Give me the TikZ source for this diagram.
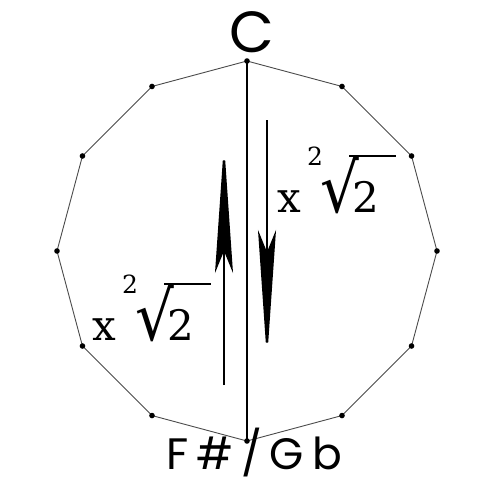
\documentclass[tikz,border=0pt]{standalone}
\usepackage{fontspec}
\usepackage{graphicx}
\usepackage{tikz}
\usetikzlibrary{arrows.meta,calc}
\newfontfamily\pitchfont{Poppins}
\newfontfamily\widepitchfont[LetterSpace=18]{Poppins}
\newfontfamily\rootfont{DejaVu Serif}
\definecolor{edgegray}{RGB}{75,75,75}

\begin{document}
\begin{tikzpicture}[x=1pt,y=-1pt,
    edge/.style={edgegray, line width=0.9pt},
    axis/.style={black, line width=1.5pt},
    shaft/.style={line width=2.4pt},
    spike/.style={-{Stealth[length=130pt,width=18pt,inset=22pt]}},
    pitch/.style={inner sep=0pt},
    big/.style={font=\rootfont\fontsize{42}{42}\selectfont, inner sep=0pt, anchor=base west},
    small/.style={font=\rootfont\fontsize{25}{25}\selectfont, inner sep=0pt, anchor=base west},
    surd/.style={font=\rootfont\fontsize{58}{58}\selectfont, inner sep=0pt, anchor=base west},
    bar/.style={line width=1.2pt},
  ]
  \useasboundingbox (0,0) rectangle (480,485);
  % twelve tones, C on top
  \foreach \i in {0,...,11}
    \coordinate (v\i) at ({247+190*sin(30*\i)},{251-190*cos(30*\i)});
  \draw[edge] (v0) \foreach \i in {1,...,11}{ -- (v\i)} -- cycle;
  \foreach \i in {0,...,11}
    \fill (v\i) circle (2.8);
  \draw[axis] (v0) -- (v6);

  \node[pitch, font=\pitchfont\fontsize{58}{58}\selectfont] (cnote) at (252,32) {C};
  \node[pitch, font=\widepitchfont\fontsize{44}{44}\selectfont] (fsnote) at (254,453) {F\#/Gb};

  % the two tritone steps
  \coordinate (upfoot) at (224,385);
  \coordinate (uptip) at (224,143);
  \coordinate (downtop) at (267,120);
  \coordinate (downtip) at (267,360);
  \draw[shaft, spike] (upfoot) -- (uptip);
  \draw[shaft, spike] (downtop) -- (downtip);

  % x sqrt 2 labels
  \foreach \px/\py/\nm in {277/212/A, 92/340/B} {
    \begin{scope}[shift={(\px,\py)}]
      \node[big] (x\nm) at (0,0) {x};
      \node[small] (idx\nm) at (30,-47) {2};
      \node[surd] (surd\nm) at (43,0) {\scalebox{1.05}[1.17]{√}};
      \node[big] (two\nm) at (75,0) {2};
      \coordinate (barl\nm) at (72,-56);
      \coordinate (barr\nm) at (119,-56);
      \draw[bar] (barl\nm) -- (barr\nm);
    \end{scope}
  }
\end{tikzpicture}
\end{document}
